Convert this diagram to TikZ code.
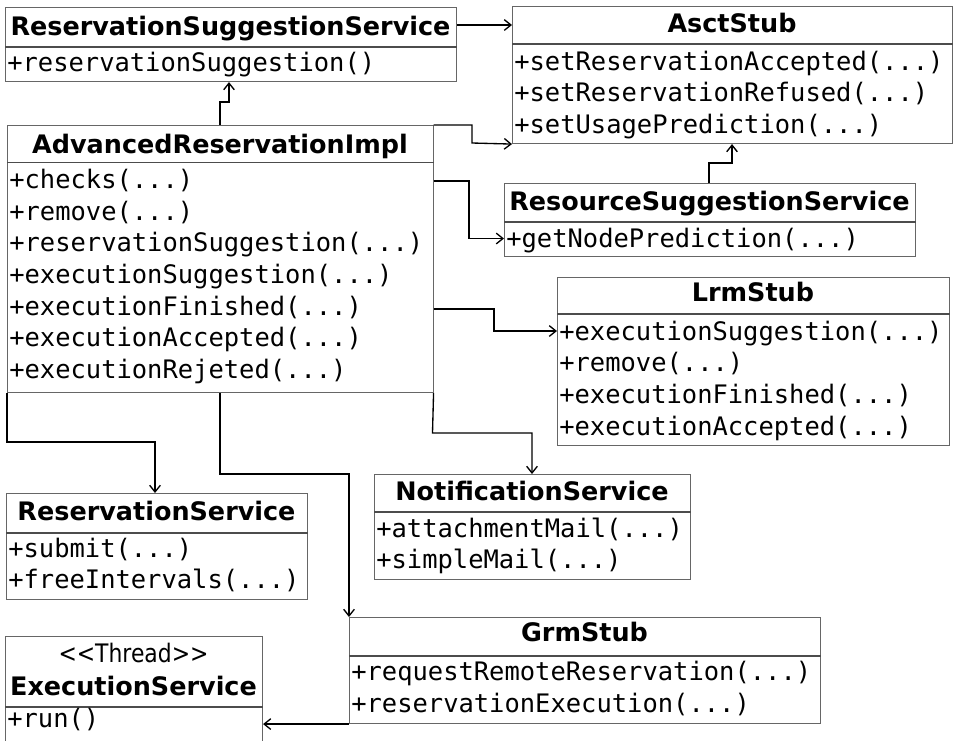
\documentclass[tikz,border=0pt]{standalone}
\usepackage{fontspec}
\setmainfont{DejaVu Sans}
\setmonofont{DejaVu Sans Mono}
\usetikzlibrary{arrows.meta}
\tikzset{
  box/.style={draw=black!60, line width=0.8pt, inner sep=0pt, anchor=north west, fill=white},
  divider/.style={draw=black!70, line width=0.8pt},
  ttl/.style={font=\fontsize{19.1}{23}\selectfont\bfseries, inner sep=0pt, anchor=base},
  stereo/.style={font=\fontsize{19.1}{23}\selectfont, inner sep=0pt, anchor=base},
  meth/.style={font=\fontsize{19.1}{23}\selectfont\ttfamily, inner sep=0pt, anchor=base west, xshift=1.5pt},
  conn/.style={draw=black, line width=1pt, -{Straight Barb[length=5pt,width=8pt]}},
}
\newcommand\umlbox[6]{%
  \node[box, minimum width=#4*0.75pt, minimum height=#5*0.75pt] (#1) at (#2,#3) {};
  \draw[divider] (#1.west |- 0,#6) -- (#1.east |- 0,#6);
}
\begin{document}
\begin{tikzpicture}[x=0.75pt, y=-0.75pt]
  \useasboundingbox (0,0) rectangle (957,740);
  \fill[white] (0,0) rectangle (957,740);
  \clip (0,0) rectangle (957,740);

  % ReservationSuggestionService
  \umlbox{rss}{5}{7}{451}{74}{47}
  \node[ttl] (rsst) at (230.5,35) {ReservationSuggestionService};
  \node[meth] (rss1) at (5,71.7) {+reservationSuggestion()};

  % AsctStub
  \umlbox{asct}{512}{6}{440}{137}{44}
  \node[ttl] (asctt) at (732,32.7) {AsctStub};
  \node[meth] (asct1) at (512,70) {+setReservationAccepted(...)};
  \node[meth] (asct2) at (512,101.7) {+setReservationRefused(...)};
  \node[meth] (asct3) at (512,133.3) {+setUsagePrediction(...)};

  % AdvancedReservationImpl
  \umlbox{ari}{7}{125}{425.5}{267}{162.5}
  \node[ttl] (arit) at (220,153) {AdvancedReservationImpl};
  \node[meth] (ari1) at (7,188.3) {+checks(...)};
  \node[meth] (ari2) at (7,220) {+remove(...)};
  \node[meth] (ari3) at (7,251.7) {+reservationSuggestion(...)};
  \node[meth] (ari4) at (7,283.3) {+executionSuggestion(...)};
  \node[meth] (ari5) at (7,315) {+executionFinished(...)};
  \node[meth] (ari6) at (7,346.7) {+executionAccepted(...)};
  \node[meth] (ari7) at (7,378.3) {+executionRejeted(...)};

  % ResourceSuggestionService
  \umlbox{ress}{504}{183}{411}{73}{222}
  \node[ttl] (resst) at (709.5,210) {ResourceSuggestionService};
  \node[meth] (ress1) at (504,247) {+getNodePrediction(...)};

  % LrmStub
  \umlbox{lrm}{557}{276.5}{392}{168.5}{314}
  \node[ttl] (lrmt) at (753,301.7) {LrmStub};
  \node[meth] (lrm1) at (557,340) {+executionSuggestion(...)};
  \node[meth] (lrm2) at (557,371.7) {+remove(...)};
  \node[meth] (lrm3) at (557,403.3) {+executionFinished(...)};
  \node[meth] (lrm4) at (557,435) {+executionAccepted(...)};

  % ReservationService
  \umlbox{rs}{6}{493}{301}{106}{533}
  \node[ttl] (rst) at (156.5,520) {ReservationService};
  \node[meth] (rs1) at (6,557) {+submit(...)};
  \node[meth] (rs2) at (6,588.7) {+freeIntervals(...)};

  % NotificationService
  \umlbox{ns}{374}{474}{316}{105}{512}
  \node[ttl] (nst) at (532,500) {NotificationService};
  \node[meth] (ns1) at (374,537) {+attachmentMail(...)};
  \node[meth] (ns2) at (374,568.7) {+simpleMail(...)};

  % GrmStub
  \umlbox{grm}{349}{617}{471}{106}{656}
  \node[ttl] (grmt) at (584.5,641.7) {GrmStub};
  \node[meth] (grm1) at (349,680.5) {+requestRemoteReservation(...)};
  \node[meth] (grm2) at (349,712) {+reservationExecution(...)};

  % ExecutionService
  \umlbox{es}{5}{635.5}{257}{130}{707}
  \node[stereo] (ess) at (133.5,662) {\scalebox{0.86}[1]{<\kern0pt<Thread>\kern0pt>}};
  \node[ttl] (est) at (133.5,695) {ExecutionService};
  \node[meth] (es1) at (5,727) {+run()};

  % connectors
  \draw[conn] (rss.east |- 0,25) -- (asct.west |- 0,25);
  \draw[conn] (220,0 |- ari.north) -- (220,102) -- (229,102) -- (229,0 |- rss.south);
  \draw[conn] (ari.north east) -- (472,125) -- (472,143) -- (asct.south west);
  \draw[conn] (ari.east |- 0,181) -- (469,181) -- (469,238.5) -- (ress.west |- 0,238.5);
  \draw[conn] (709,0 |- ress.north) -- (709,163) -- (732,163) -- (732,0 |- asct.south);
  \draw[conn] (ari.east |- 0,309) -- (494,309) -- (494,331) -- (lrm.west |- 0,331);
  \draw[conn] (ari.south east) -- (432.5,433) -- (532,433) -- (532,0 |- ns.north);
  \draw[conn] (ari.south west) -- (7,442) -- (155,442) -- (155,0 |- rs.north);
  \draw[conn] (220,0 |- ari.south) -- (220,474) -- (349,474) -- (grm.north west);
  \draw[conn] (grm.south west) -- (es.east |- grm.south west);
\end{tikzpicture}
\end{document}
